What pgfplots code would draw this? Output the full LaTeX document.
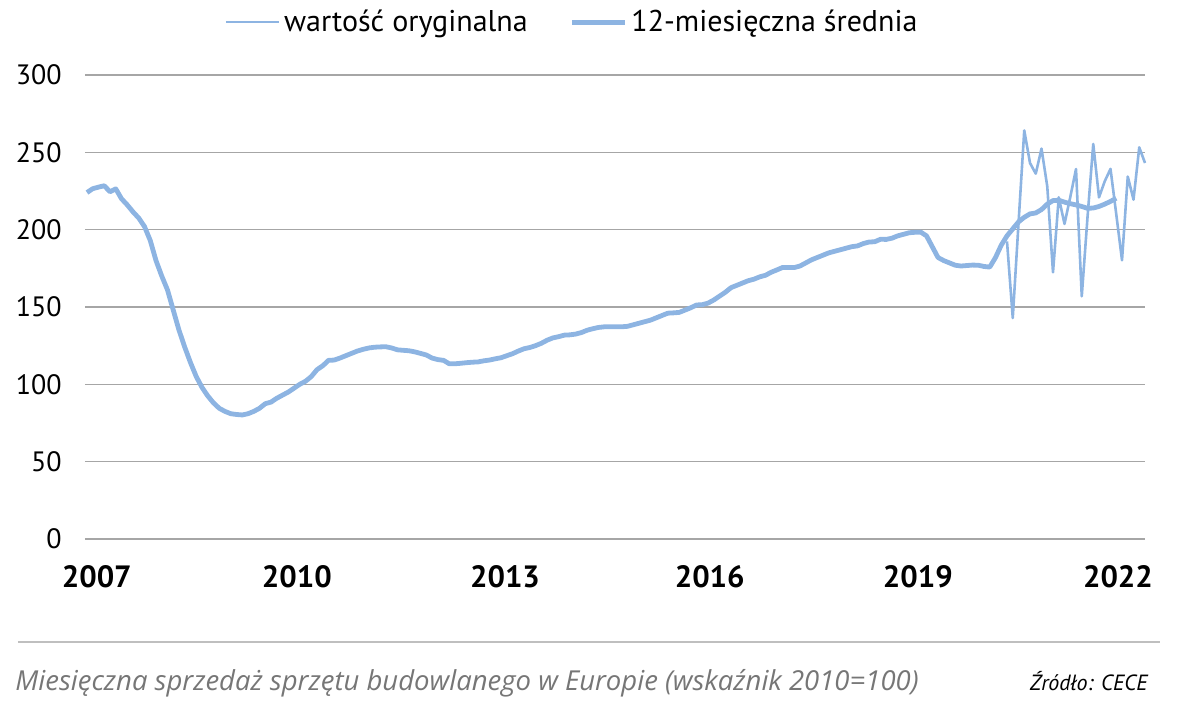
\documentclass[border=0pt]{standalone}
\usepackage{fontspec}
\setmainfont{PT Sans}
\newfontfamily\capfont{Open Sans}
\usepackage{pgfplots}
\usepackage{pgfplotstable}
\pgfplotsset{compat=1.18}

\definecolor{series}{RGB}{141,180,226}
\definecolor{gridgray}{RGB}{166,166,166}
\definecolor{rulegray}{RGB}{191,191,191}
\definecolor{capgray}{RGB}{118,118,118}

% month index: 0 = January 2007
% 12-month moving average
\pgfplotstableread{
m v
0 224
1 226.5
2 227.5
3 228.4
4 224.5
5 226.4
6 220
7 216
8 211.5
9 207.5
10 202
11 193
12 180
13 170
14 161
15 148
16 135
17 124
18 114
19 105
20 98
21 92.5
22 88
23 84.5
24 82.5
25 81
26 80.5
27 80.2
28 81
29 82.5
30 84.5
31 87.5
32 88.5
33 91
34 93
35 95
36 97.5
37 100
38 102
39 105
40 109.5
41 112
42 115.5
43 115.7
44 117
45 118.5
46 120
47 121.5
48 122.6
49 123.5
50 124
51 124.2
52 124.3
53 123.5
54 122.3
55 122
56 121.7
57 121
58 120
59 119
60 117
61 116
62 115.5
63 113.3
64 113.3
65 113.6
66 114
67 114.3
68 114.5
69 115.2
70 115.7
71 116.5
72 117.2
73 118.5
74 119.8
75 121.5
76 123
77 123.8
78 125
79 126.5
80 128.5
81 130
82 130.8
83 131.8
84 132
85 132.5
86 133.5
87 135
88 136
89 136.8
90 137.2
91 137.2
92 137.2
93 137.2
94 137.5
95 138.5
96 139.5
97 140.5
98 141.5
99 143
100 144.5
101 146
102 146.2
103 146.5
104 148
105 149.5
106 151.3
107 151.5
108 152.5
109 154.5
110 157
111 159.5
112 162.5
113 164
114 165.5
115 167
116 168
117 169.5
118 170.5
119 172.5
120 174
121 175.6
122 175.6
123 175.5
124 176.5
125 178.5
126 180.5
127 182
128 183.5
129 185
130 186
131 187
132 188
133 189
134 189.5
135 191
136 192
137 192.2
138 193.8
139 193.7
140 194.5
141 196
142 197
143 198
144 198.3
145 198.4
146 196
147 189
148 182
149 180
150 178.5
151 177
152 176.5
153 176.8
154 177.1
155 177
156 176.2
157 175.8
158 182
159 190
160 196
161 200.5
162 205
163 208
164 210.2
165 210.8
166 213
167 216.5
168 218.8
169 219
170 217.8
171 216.8
172 216
173 215
174 213.8
175 214
176 215
177 216.5
178 218.3
179 220.3
}\avgtable

% original monthly values (May 2020 onwards)
\pgfplotstableread{
m v
160 192.4
161 142.9
162 204
163 264.2
164 243.1
165 236.2
166 252.4
167 228
168 172.4
169 220.9
170 203.7
171 221
172 239.2
173 156.9
174 208
175 255.4
176 220.9
177 231.3
178 239.3
179 210
180 180.2
181 234.3
182 219.4
183 253.2
184 243.1
}\origtable

\begin{document}
\begin{tikzpicture}
\path[use as bounding box] (-42.5bp,-82.5bp) rectangle (547.5bp,269.5bp);
\begin{axis}[
  scale only axis,
  width=530bp, height=232bp,
  xmin=-0.35, xmax=184,
  ymin=0, ymax=300,
  clip=false,
  axis line style={draw=none},
  major tick style={draw=none},
  ytick={0,50,...,300},
  ymajorgrids,
  grid style={gridgray, line width=0.8bp},
  xtick={1.7,36.5,72.7,108.3,144.5,179.3},
  xticklabels={2007,2010,2013,2016,2019,2022},
  xticklabel style={font=\bfseries\fontsize{15.4bp}{18bp}\selectfont,
    anchor=center, yshift=-19bp, inner sep=0pt},
  yticklabel style={font=\fontsize{14bp}{16bp}\selectfont,
    anchor=east, inner sep=0pt, xshift=-11.5bp},
  /pgf/number format/assume math mode=true,
  legend style={draw=none, fill=none, at={(0.4604,1.114)}, anchor=center,
    legend columns=2, font=\fontsize{15bp}{18bp}\selectfont,
    /tikz/every even column/.append style={column sep=19bp},
    inner sep=0pt},
  legend image code/.code={\draw[#1] (0bp,0bp) -- (26.5bp,0bp);},
]
\addplot[series, line width=1.3bp, line join=round] table[x=m, y=v] {\origtable};
\addlegendentry{wartość oryginalna}
\addplot[series, line width=2.4bp, line join=round] table[x=m, y=v] {\avgtable};
\addlegendentry{12-miesięczna średnia}
\end{axis}
\draw[rulegray, line width=0.8bp] (-33.5bp,-51.5bp) -- (537.5bp,-51.5bp);
\node[anchor=base west, inner sep=0pt, text=capgray,
  font=\capfont\itshape\fontsize{13.75bp}{16bp}\selectfont] at (-35bp,-75.5bp)
  {Miesięczna sprzedaż sprzętu budowlanego w Europie (wskaźnik 2010=100)};
\node[anchor=base east, inner sep=0pt,
  font=\itshape\fontsize{11bp}{13bp}\selectfont] at (531.5bp,-75.5bp)
  {Źródło: CECE};
\end{tikzpicture}
\end{document}
